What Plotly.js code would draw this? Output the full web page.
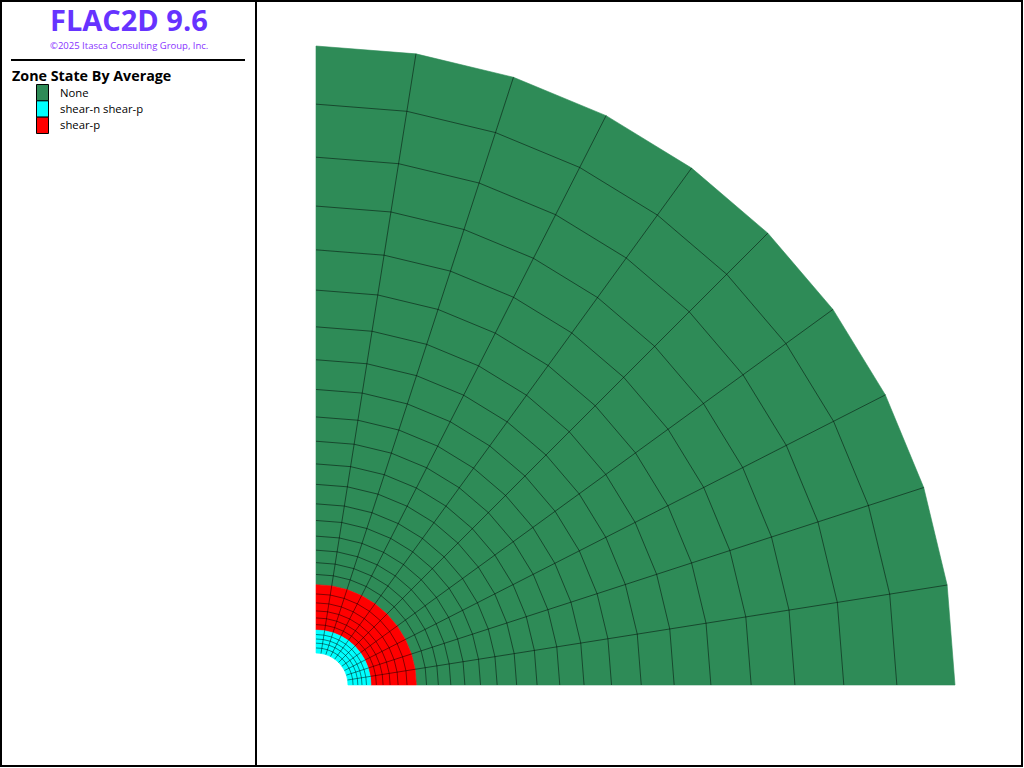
<!DOCTYPE html>
<html>
<head>
<meta charset="utf-8">
<script src="https://cdn.plot.ly/plotly-3.0.1.min.js"></script>
<style>html,body{margin:0;padding:0;background:#fff;overflow:hidden}#chart{width:1024px;height:768px}</style>
</head>
<body>
<div id="chart"></div>
<script>
// Mesh (model units, hole radius = 1)
const shearNRings = [1.00, 1.16, 1.31, 1.44, 1.58, 1.72];
const shearPRings = [1.72, 1.89, 2.10, 2.32, 2.57, 2.85, 3.14];
const noneRings = [3.14, 3.46, 3.83, 4.22, 4.66, 5.15, 5.67, 6.28, 6.92, 7.63, 8.39, 9.25, 10.18, 11.21, 12.36, 13.62, 14.99, 16.52, 18.18, 20.00];
const sectorAngles = [0, 9, 18, 27, 36, 45, 54, 63, 72, 81, 90];

const legendLabels = ['None', 'shear-n shear-p', 'shear-p'];
const legendColors = ['#2E8B57', '#00FFFF', '#FF0000'];

const meshLine = 'rgba(0,0,0,0.48)';
const W = 1024, H = 768;

const px = (r, a) => r * Math.cos(a * Math.PI / 180);
const py = (r, a) => r * Math.sin(a * Math.PI / 180);

function zoneTrace(rings, color, name) {
  const x = [], y = [];
  for (let i = 0; i < rings.length - 1; i++) {
    for (let j = 0; j < sectorAngles.length - 1; j++) {
      const r0 = rings[i], r1 = rings[i + 1], a0 = sectorAngles[j], a1 = sectorAngles[j + 1];
      x.push(px(r0, a0), px(r1, a0), px(r1, a1), px(r0, a1), px(r0, a0), null);
      y.push(py(r0, a0), py(r1, a0), py(r1, a1), py(r0, a1), py(r0, a0), null);
    }
  }
  return {type: 'scatter', mode: 'lines', x, y, name, fill: 'toself', fillcolor: color,
          line: {width: 0.6, color}, hoverinfo: 'skip'};
}

function gridTrace(rings) {
  // rings drawn between cells; the interface rings carry no visible line
  const x = [], y = [];
  rings.slice(1, -1).forEach(r => {
    sectorAngles.forEach(a => { x.push(px(r, a)); y.push(py(r, a)); });
    x.push(null); y.push(null);
  });
  sectorAngles.slice(1, -1).forEach(a => {
    x.push(px(rings[0], a), px(rings[rings.length - 1], a), null);
    y.push(py(rings[0], a), py(rings[rings.length - 1], a), null);
  });
  return {type: 'scatter', mode: 'lines', x, y, line: {width: 1, color: meshLine}, hoverinfo: 'skip'};
}

const traces = [
  zoneTrace(noneRings, legendColors[0], legendLabels[0]),
  zoneTrace(shearPRings, legendColors[2], legendLabels[2]),
  zoneTrace(shearNRings, legendColors[1], legendLabels[1]),
  gridTrace(noneRings),
  gridTrace(shearPRings),
  gridTrace(shearNRings)
];

const X = v => v / W, Y = v => 1 - v / H;
const rect = (x0, y0, x1, y1, fill, lw, lc) => ({type: 'rect', xref: 'paper', yref: 'paper',
  x0: X(x0), x1: X(x1), y0: Y(y0), y1: Y(y1), fillcolor: fill,
  line: {width: lw, color: lc || fill}, layer: 'above'});

const shapes = [
  rect(0, 0, 2, 767, '#000', 0),
  rect(0, 0, 1023, 2, '#000', 0),
  rect(1021, 0, 1023, 767, '#000', 0),
  rect(0, 765, 1023, 767, '#000', 0),
  rect(255, 0, 257, 767, '#000', 0),
  rect(11, 59, 245, 61, '#000', 0)
];
legendColors.forEach((c, i) => shapes.push(rect(36.5, 84.5 + 16.33 * i, 48.5, 100.83 + 16.33 * i, c, 1, '#000')));

const note = (text, x, y, size, color, bold, anchor) => ({
  text: bold ? '<b>' + text + '</b>' : text, xref: 'paper', yref: 'paper', x: X(x), y: Y(y),
  xanchor: anchor || 'left', yanchor: 'middle', showarrow: false,
  font: {family: '"Open Sans", "Noto Sans", sans-serif', size, color}, borderpad: 0, borderwidth: 0
});

const annotations = [
  note('FLAC2D 9.6', 129, 19.5, 29, '#6633FF', true, 'center'),
  note('©2025 Itasca Consulting Group, Inc.', 129, 45.5, 9.5, '#8833FF', false, 'center'),
  note('Zone State By Average', 12, 75, 14.3, '#000', true)
];
legendLabels.forEach((t, i) => annotations.push(note(t, 60, 92.6 + 16 * i, 11.3, '#000', false)));

const scale = 31.95;
const axis = {visible: false, showgrid: false, zeroline: false, fixedrange: true};
const layout = {
  width: W, height: H, margin: {l: 0, r: 0, t: 0, b: 0}, showlegend: false,
  paper_bgcolor: '#fff', plot_bgcolor: '#fff',
  xaxis: Object.assign({domain: [0, 1], range: [-316 / scale, (W - 316) / scale]}, axis),
  yaxis: Object.assign({domain: [0, 1], range: [-(H - 685) / scale, 685 / scale]}, axis),
  shapes, annotations
};
Plotly.newPlot('chart', traces, layout, {displayModeBar: false, staticPlot: true});
</script>
</body>
</html>
